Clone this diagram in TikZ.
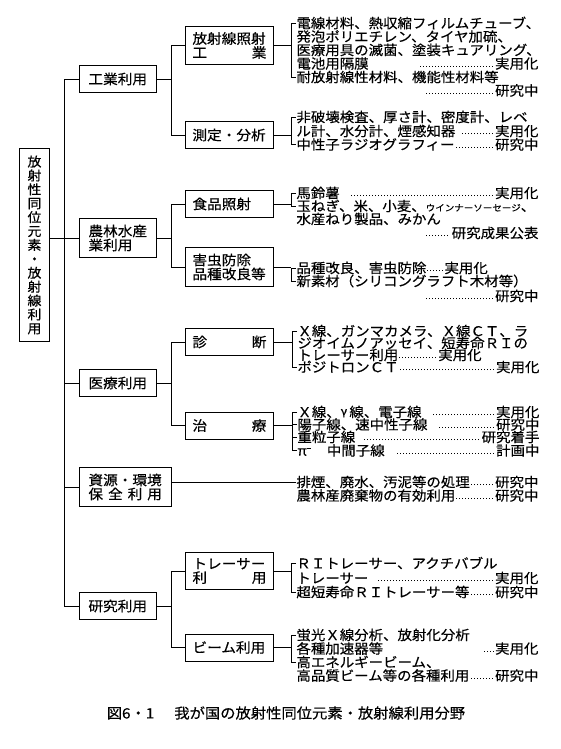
\documentclass[tikz,border=0pt]{standalone}
\usepackage{fontspec}
\setmainfont{Noto Sans CJK JP}[FakeStretch=1.07,FakeBold=0.4]
\usetikzlibrary{calc}
\newcommand\dotlead{\leaders\hbox to 3pt{\hss\rule[2pt]{1pt}{1pt}\hss}\hfill}
\newcommand\dotrun[1]{\hbox to #1{\dotlead}}
\tikzset{
  rootbox/.style={draw,inner xsep=8pt,inner ysep=7pt,align=center,
    font=\fontsize{13}{13.9}\selectfont},
  catbox/.style={draw,anchor=west,minimum height=27pt,inner xsep=9pt,inner ysep=6pt,
    align=left,font=\fontsize{13.7}{14}\selectfont},
  subbox/.style={catbox,inner xsep=7pt,text width=74pt},
  entry/.style={anchor=west,inner sep=0pt,text width=242pt,align=left,
    font=\fontsize{13.5}{13}\selectfont},
}

\begin{document}
\begin{tikzpicture}[x=1pt,y=-1pt,line width=.9pt]
  \useasboundingbox (0,0) rectangle (561,749);
  \node[rootbox] (root) at (34.5,245) {放\\射\\性\\同\\位\\元\\素\\・\\放\\射\\線\\利\\用};
  % first level
  \node[catbox] (c1) at (79,79) {工業利用};
  \node[catbox] (c2) at (79,238) {農林水産\\業利用};
  \node[catbox] (c3) at (79,383) {医療利用};
  \node[catbox,text width=73.5pt] (c4) at (79,487) {資源・環境\\保\hfill 全\hfill 利\hfill 用};
  \node[catbox] (c5) at (79,606) {研究利用};
  % second level
  \node[subbox] (s1) at (185,45.5) {放射線照射\\工\hfill 業};
  \node[subbox] (s2) at (185,135) {測定・分析};
  \node[subbox] (s3) at (185,204) {食品照射};
  \node[subbox] (s4) at (185,267) {害虫防除\\品種改良等};
  \node[subbox] (s5) at (185,342) {診\hfill 断};
  \node[subbox] (s6) at (185,425.5) {治\hfill 療};
  \node[subbox] (s7) at (185,571) {トレーサー\\利\hfill 用};
  \node[subbox] (s8) at (185,647.5) {ビーム利用};
  % entries
  \node[entry] (a1) at (296,23) {電線材料、熱収縮フィルムチューブ、};
  \node[entry] (a2) at (296,36.5) {発泡ポリエチレン、タイヤ加硫、};
  \node[entry] (a3) at (296,50) {医療用具の滅菌、塗装キュアリング、};
  \node[entry] (a4) at (296,63.5) {電池用隔膜\hspace{50pt}\dotlead 実用化};
  \node[entry] (a5) at (296,77) {耐放射線性材料、機能性材料等};
  \node[entry] (a6) at (296,90.5) {\hspace*{128pt}\dotlead 研究中};
  \node[entry] (b1) at (296,117) {非破壊検査、厚さ計、密度計、レベ};
  \node[entry] (b2) at (296,131) {ル計、水分計、煙感知器\hspace{4pt}\dotlead 実用化};
  \node[entry] (b3) at (296,144.5) {中性子ラジオグラフィー\dotlead 研究中};
  \node[entry] (f1) at (296,193) {馬鈴薯\hspace{10pt}\dotlead 実用化};
  \node[entry] (f2) at (296,206) {玉ねぎ、米、小麦、{\fontsize{8.9}{9}\selectfont ウインナーソーセージ}、};
  \node[entry] (f3) at (296,219) {水産ねり製品、みかん};
  \node[entry] (f4) at (296,233) {\hspace*{128pt}\dotlead 研究成果公表};
  \node[entry] (g1) at (296,268) {品種改良、害虫防除\dotrun{18pt}実用化};
  \node[entry] (g2) at (296,281) {新素材（シリコングラフト木材等）};
  \node[entry] (g3) at (296,296) {\hspace*{128pt}\dotlead 研究中};
  \node[entry] (e1) at (297,331) {Ｘ線、ガンマカメラ、Ｘ線ＣＴ、ラ};
  \node[entry] (e2) at (297,343) {ジオイムノアッセイ、短寿命ＲＩの};
  \node[entry] (e3) at (297,355) {トレーサー利用\dotrun{40pt}実用化};
  \node[entry] (e4) at (297,367) {ポジトロンＣＴ\dotlead 実用化};
  \node[entry] (h1) at (297,412) {Ｘ線、\raisebox{2pt}{\fontsize{11}{11}\selectfont γ}\,線、電子線\hspace{10pt}\dotlead 実用化};
  \node[entry] (h2) at (297,424.5) {陽子線、速中性子線\hspace{10pt}\dotlead 研究中};
  \node[entry] (h3) at (297,437) {重粒子線\hspace{6pt}\dotlead 研究着手};
  \node[entry] (h4) at (297,450.5) {π\raisebox{7pt}{\rule{4pt}{.8pt}}\hspace{16pt}中間子線\hspace{10pt}\dotlead 計画中};
  \node[entry] (k1) at (296,482) {排煙、廃水、汚泥等の処理\dotlead 研究中};
  \node[entry] (k2) at (296,495.5) {農林産廃棄物の有効利用\dotlead 研究中};
  \node[entry] (t1) at (296,563) {ＲＩトレーサー、アクチバブル};
  \node[entry] (t2) at (296,578) {トレーサー\hspace{8pt}\dotlead 実用化};
  \node[entry] (t3) at (296,592) {超短寿命ＲＩトレーサー等\dotlead 研究中};
  \node[entry] (m1) at (296,635) {蛍光Ｘ線分析、放射化分析};
  \node[entry] (m2) at (296,648.5) {各種加速器等\hfill\dotrun{12pt}実用化};
  \node[entry] (m3) at (296,662) {高エネルギービーム、};
  \node[entry] (m4) at (296,675.5) {高品質ビーム等の各種利用\dotlead 研究中};
  \node[anchor=west,font=\fontsize{14.3}{16}\selectfont] (cap) at (103,713)
    {図6・1\hspace{20pt}我が国の放射性同位元素・放射線利用分野};
  % trunk
  \draw (root.east |- c2.west) -- (c2.west);
  \draw (c1.west) -- ++(-15,0) |- (c5.west);
  \draw (c3.west) -- ++(-15,0) (c4.west) -- ++(-15,0);
  \foreach \c/\s/\t in {c1/s1/s2,c2/s3/s4,c3/s5/s6,c5/s7/s8}
    \draw (\c.east) -- ++(15,0) coordinate (fork) |- (\s.west) (fork) |- (\t.west);
  \draw (c4.east |- k1.west) -- (k1.west);
  % brackets
  \foreach \s/\first/\last in {s1/a1/a5,s2/b1/b3,s3/f1/f2,s4/g1/g2,s5/e1/e4,s6/h1/h4,s7/t1/t3,s8/m1/m3} {
    \draw (\first.west) -- ++(-5,0) coordinate (brk) -- (brk |- \last.west) -- (\last.west);
    \draw (\s.east) -- (\s.east -| brk);
  }
  \draw (h2.west) -- ++(-5,0) (h3.west) -- ++(-5,0);
\end{tikzpicture}
\end{document}
